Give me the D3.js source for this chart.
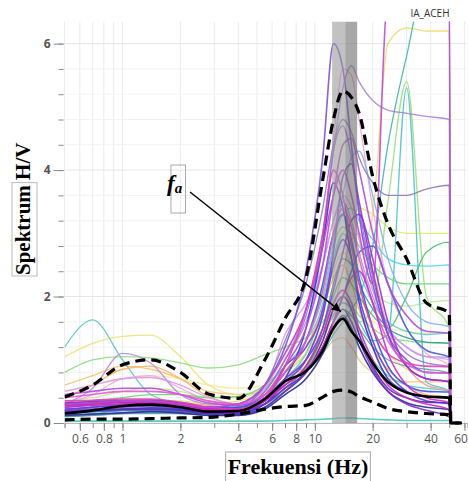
<!DOCTYPE html>
<html>
<head>
<meta charset="utf-8">
<script src="https://cdn.jsdelivr.net/npm/d3@7"></script>
<style>
  body { margin: 0; background: #fff; }
  svg { display: block; }
  .tick text { font-family: "Open Sans", sans-serif; font-size: 12px; fill: #555; }
  .tick line { stroke: #8a8a8a; }
</style>
</head>
<body>
<svg id="chart" width="468" height="481"></svg>
<script>
// frequency grid (Hz) shared by every H/V curve
const freqs = [0.5, 0.7, 1, 1.4, 2, 2.8, 4, 5.5, 7, 9, 11, 12.5, 14, 15.5, 17, 20, 24, 30, 38, 50];
// after the last frequency all curves fall to 0
const tailFreqs = [51, 58];

// single-window H/V curves, light colours first so the purples end on top
const curveColors = [
  "#f3ea9c", "#f5c27a", "#efe27a", "#8edc86", "#5ec9c3", "#f6b35e", "#bfe99a", "#d9ec6a",
  "#eadb78", "#9be07a", "#4fc1c9", "#3fb6ae", "#f2a6d8", "#f29a8a", "#6fcf7a", "#55d4e6",
  "#62c6d8", "#4fbf6a", "#2d9c8c", "#6a9aa6", "#7fb0f0", "#b98ae6", "#d89ae8", "#a585d6",
  "#8d7bb0", "#9b6fe0", "#4466cc", "#3c4fe0", "#3a36c8", "#2a2a9a", "#5b3fd8", "#5a2ab0",
  "#7b52d6", "#8a3ccc", "#9a2fd8", "#7d2fc0", "#b14fd8", "#e25ad0", "#e040b0", "#d02ac8",
  "#c72fb9", "#c04ad0", "#4cc6b8"
];
const curveValues = [
  [0.5, 0.6, 0.7, 0.75, 0.7, 0.6, 0.55, 0.6, 0.75, 0.95, 1.3, 1.7, 1.9, 1.9, 1.8, 1.6, 1.5, 1.45, 1.42, 1.42],
  [0.6, 0.75, 0.9, 0.85, 0.7, 0.5, 0.45, 0.5, 0.65, 0.85, 1.1, 1.3, 1.35, 1.2, 1.0, 0.8, 0.7, 0.65, 0.65, 0.65],
  [1.05, 1.26, 1.37, 1.39, 1.05, 0.6, 0.45, 0.55, 0.85, 1.2, 1.8, 2.4, 2.7, 2.5, 2.1, 1.5, 1.1, 0.85, 0.7, 0.65],
  [0.8, 1.0, 1.05, 1.03, 0.95, 0.87, 0.92, 1.08, 1.2, 1.35, 1.6, 1.8, 1.9, 1.85, 1.7, 1.5, 1.35, 1.3, 1.27, 1.26],
  [1.2, 1.63, 1.0, 0.45, 0.3, 0.22, 0.2, 0.35, 0.6, 0.9, 1.4, 1.9, 2.1, 1.8, 1.4, 1.0, 0.75, 0.6, 0.55, 0.5],
  [0.4, 0.6, 0.85, 0.9, 0.7, 0.42, 0.3, 0.45, 0.8, 1.2, 1.8, 2.3, 2.5, 2.2, 1.8, 1.2, 0.85, 0.6, 0.45, 0.4],
  [0.35, 0.4, 0.5, 0.55, 0.5, 0.4, 0.4, 0.55, 0.8, 1.1, 1.7, 2.6, 3.0, 2.8, 2.5, 2.1, 1.9, 1.85, 1.9, 1.94],
  [0.2, 0.25, 0.3, 0.35, 0.35, 0.3, 0.3, 0.45, 0.7, 1.1, 1.8, 2.6, 3.0, 3.2, 3.4, 3.3, 3.1, 3.0, 3.0, 3.0],
  [0.15, 0.2, 0.25, 0.3, 0.3, 0.3, 0.35, 0.5, 0.8, 1.1, 1.5, 1.8, 2.0, 2.2, 2.6, 3.3, 6.0, 6.25, 6.2, 6.2],
  [0.2, 0.25, 0.3, 0.3, 0.28, 0.25, 0.3, 0.45, 0.7, 0.9, 1.2, 1.5, 1.7, 1.7, 1.6, 1.8, 3.5, 5.4, 2.0, 1.5],
  [0.12, 0.15, 0.2, 0.22, 0.2, 0.18, 0.22, 0.4, 0.7, 1.0, 1.4, 1.7, 1.9, 1.8, 1.6, 1.3, 1.4, 5.3, 0.65, 0.5],
  [0.1, 0.12, 0.15, 0.15, 0.15, 0.15, 0.2, 0.3, 0.5, 0.8, 1.1, 1.4, 1.6, 1.8, 2.0, 2.8, 4.4, 5.8, 7.0, 7.0],
  [0.3, 0.45, 0.7, 0.75, 0.55, 0.35, 0.3, 0.55, 1.1, 1.8, 3.0, 4.5, 5.6, 5.5, 4.8, 3.4, 2.2, 1.5, 1.1, 0.9],
  [0.2, 0.25, 0.3, 0.35, 0.32, 0.28, 0.25, 0.4, 0.6, 0.9, 1.3, 1.8, 2.4, 2.9, 3.0, 2.4, 1.5, 0.9, 0.6, 0.5],
  [0.3, 0.35, 0.4, 0.45, 0.45, 0.4, 0.42, 0.6, 0.9, 1.3, 2.0, 2.8, 3.1, 3.0, 2.8, 2.5, 2.3, 2.2, 2.2, 2.2],
  [0.2, 0.22, 0.25, 0.26, 0.22, 0.18, 0.2, 0.4, 0.8, 1.3, 2.1, 2.9, 3.3, 3.4, 3.2, 2.9, 2.6, 2.5, 2.48, 2.5],
  [0.22, 0.25, 0.28, 0.3, 0.27, 0.22, 0.24, 0.4, 0.7, 1.1, 1.8, 2.6, 3.0, 2.8, 2.4, 1.9, 1.6, 1.45, 1.4, 1.42],
  [0.12, 0.14, 0.16, 0.18, 0.16, 0.12, 0.12, 0.25, 0.5, 0.85, 1.4, 2.0, 2.3, 2.2, 2.0, 1.7, 1.5, 2.0, 2.7, 2.86],
  [0.15, 0.18, 0.2, 0.22, 0.2, 0.15, 0.16, 0.3, 0.55, 0.9, 1.5, 2.2, 2.6, 2.5, 2.2, 1.8, 1.5, 1.35, 1.28, 1.26],
  [0.1, 0.12, 0.15, 0.16, 0.15, 0.12, 0.14, 0.25, 0.5, 0.8, 1.2, 1.6, 1.8, 1.7, 1.5, 1.2, 1.0, 0.9, 0.85, 0.79],
  [0.25, 0.3, 0.35, 0.35, 0.3, 0.25, 0.3, 0.55, 0.9, 1.3, 1.9, 2.8, 3.6, 4.2, 4.3, 3.6, 2.6, 1.9, 1.6, 1.52],
  [0.3, 0.55, 1.1, 0.95, 0.45, 0.3, 0.28, 0.5, 1.0, 1.6, 2.5, 3.2, 3.5, 3.2, 2.7, 2.0, 1.5, 1.2, 1.05, 1.04],
  [0.5, 0.6, 0.7, 0.72, 0.6, 0.4, 0.3, 0.55, 1.4, 1.9, 2.5, 3.2, 3.6, 3.4, 2.9, 2.1, 1.5, 1.2, 1.05, 1.0],
  [0.2, 0.25, 0.3, 0.32, 0.28, 0.22, 0.25, 0.5, 1.0, 1.8, 3.0, 4.3, 5.3, 5.65, 5.4, 5.1, 4.95, 4.9, 4.85, 4.8],
  [0.2, 0.25, 0.3, 0.3, 0.25, 0.2, 0.25, 0.6, 1.3, 2.2, 3.4, 4.4, 4.8, 4.6, 4.2, 3.8, 3.6, 3.6, 3.7, 3.76],
  [0.25, 0.28, 0.3, 0.33, 0.3, 0.24, 0.24, 0.5, 1.0, 1.7, 2.9, 4.3, 4.7, 4.2, 3.4, 2.3, 1.5, 1.1, 0.95, 0.89],
  [0.15, 0.18, 0.2, 0.2, 0.18, 0.14, 0.15, 0.3, 0.55, 0.8, 1.2, 1.6, 2.0, 2.4, 2.7, 2.8, 2.2, 1.5, 1.15, 1.04],
  [0.3, 0.32, 0.35, 0.36, 0.32, 0.25, 0.25, 0.45, 0.8, 1.3, 2.2, 3.0, 3.3, 2.9, 2.3, 1.5, 0.9, 0.6, 0.5, 0.49],
  [0.18, 0.2, 0.22, 0.24, 0.22, 0.16, 0.16, 0.3, 0.7, 1.5, 2.8, 3.8, 3.4, 2.6, 1.9, 1.2, 0.7, 0.5, 0.42, 0.4],
  [0.12, 0.14, 0.16, 0.18, 0.16, 0.12, 0.12, 0.22, 0.45, 0.7, 1.1, 1.5, 1.7, 1.5, 1.2, 0.8, 0.5, 0.32, 0.25, 0.21],
  [0.22, 0.25, 0.28, 0.3, 0.26, 0.2, 0.2, 0.35, 0.65, 1.0, 1.7, 2.5, 2.9, 2.6, 2.0, 1.3, 0.8, 0.5, 0.35, 0.3],
  [0.18, 0.2, 0.22, 0.22, 0.2, 0.15, 0.14, 0.25, 0.5, 0.8, 1.3, 1.8, 2.0, 1.8, 1.4, 0.9, 0.55, 0.4, 0.33, 0.32],
  [0.25, 0.3, 0.35, 0.35, 0.3, 0.25, 0.3, 0.6, 1.2, 2.4, 4.2, 6.0, 5.6, 4.4, 3.3, 2.2, 1.4, 1.0, 0.8, 0.79],
  [0.2, 0.22, 0.25, 0.27, 0.24, 0.18, 0.18, 0.35, 0.9, 1.2, 1.8, 2.7, 3.9, 4.1, 3.5, 2.4, 1.4, 0.9, 0.7, 0.65],
  [0.28, 0.3, 0.33, 0.33, 0.3, 0.22, 0.22, 0.4, 0.7, 1.0, 1.5, 2.1, 2.7, 3.2, 3.3, 2.6, 1.6, 0.9, 0.7, 0.65],
  [0.32, 0.34, 0.36, 0.36, 0.3, 0.22, 0.2, 0.3, 0.55, 0.8, 1.2, 1.6, 1.8, 1.6, 1.3, 0.85, 0.5, 0.3, 0.2, 0.1],
  [0.45, 0.5, 0.55, 0.55, 0.45, 0.32, 0.28, 0.45, 0.9, 1.5, 2.5, 3.6, 4.4, 4.5, 4.0, 3.0, 2.2, 1.7, 1.45, 1.42],
  [0.4, 0.45, 0.5, 0.5, 0.45, 0.35, 0.3, 0.45, 0.8, 1.3, 2.1, 3.0, 3.4, 3.1, 2.6, 1.9, 1.3, 0.95, 0.8, 0.79],
  [0.35, 0.36, 0.38, 0.38, 0.33, 0.25, 0.22, 0.4, 0.9, 1.8, 3.0, 4.0, 3.6, 2.8, 2.2, 1.5, 1.1, 0.95, 0.9, 0.89],
  [0.25, 0.28, 0.3, 0.32, 0.3, 0.22, 0.2, 0.35, 0.6, 0.85, 1.2, 1.6, 2.0, 2.3, 2.4, 1.9, 1.1, 0.6, 0.4, 0.32],
  [0.28, 0.3, 0.32, 0.32, 0.28, 0.2, 0.2, 0.35, 0.6, 0.9, 1.4, 1.9, 2.1, 1.9, 1.5, 1.0, 0.6, 0.4, 0.3, 0.21],
  [0.3, 0.32, 0.35, 0.35, 0.3, 0.25, 0.3, 0.6, 1.1, 1.8, 2.8, 3.6, 4.0, 3.6, 3.0, 2.2, 6.8, 7.0, 7.0, 7.0],
  [0.03, 0.03, 0.03, 0.03, 0.03, 0.03, 0.03, 0.03, 0.04, 0.05, 0.06, 0.07, 0.08, 0.08, 0.07, 0.06, 0.05, 0.04, 0.04, 0.04]
];

// average curve and average +/- standard deviation
const meanHV  = [0.15, 0.2, 0.27, 0.29, 0.25, 0.18, 0.19, 0.38, 0.66, 0.82, 1.15, 1.5, 1.65, 1.45, 1.3, 0.95, 0.65, 0.48, 0.42, 0.4];
const upperHV = [0.41, 0.6, 0.92, 1.0, 0.8, 0.46, 0.39, 1.0, 1.65, 2.3, 3.85, 4.8, 5.25, 5.15, 4.9, 3.9, 3.15, 2.6, 1.9, 1.74];
const lowerHV = [0.05, 0.06, 0.06, 0.07, 0.08, 0.09, 0.14, 0.22, 0.26, 0.28, 0.41, 0.5, 0.52, 0.49, 0.42, 0.33, 0.23, 0.18, 0.15, 0.13];

// peak frequency band (Hz): lighter left half, darker right half
const bandLeft = [12.3, 14.4];
const bandRight = [14.4, 16.6];

const xTickLabels = [0.6, 0.8, 1, 2, 4, 6, 8, 10, 20, 40, 60];
const yTickLabels = [0, 2, 4, 6];

/* ===== scales ===== */
const svg = d3.select('#chart');
const x = d3.scaleLog().domain([0.5, 62]).range([64.6, 467.2]);
const y = d3.scaleLinear().domain([0, 6.35]).range([423, 21.5]);
const yMinor = d3.range(0, 6.01, 0.4);

svg.append('clipPath').attr('id', 'plot-clip')
  .append('rect')
  .attr('x', x.range()[0]).attr('y', y.range()[1])
  .attr('width', x.range()[1] - x.range()[0])
  .attr('height', y.range()[0] - y.range()[1] + 3);

/* ===== grid ===== */
const grid = svg.append('g');
grid.selectAll('.vgrid')
  .data(x.ticks())
  .enter().append('line')
  .attr('x1', d => x(d)).attr('x2', d => x(d))
  .attr('y1', y.range()[1]).attr('y2', y(0))
  .attr('stroke', '#ececec');
grid.selectAll('.hgrid')
  .data(yMinor)
  .enter().append('line')
  .attr('x1', x.range()[0]).attr('x2', x.range()[1])
  .attr('y1', d => y(d)).attr('y2', d => y(d))
  .attr('stroke', d => yTickLabels.includes(Math.round(d * 10) / 10) ? '#e6e6e6' : '#f2f2f2');

/* ===== axes ===== */
svg.append('g')
  .attr('transform', `translate(0,${y(0)})`)
  .call(d3.axisBottom(x).tickValues(x.ticks()).tickSize(5).tickFormat(''))
  .call(g => g.select('.domain').attr('stroke', '#bbb'));
svg.append('g')
  .attr('transform', `translate(0,${y(0)})`)
  .call(d3.axisBottom(x).tickValues(xTickLabels).tickSize(8).tickPadding(3).tickFormat(d3.format('')))
  .call(g => g.select('.domain').remove())
  // last label sits at the window edge; keep it fully inside
  .call(g => g.selectAll('text').filter(d => d === 60).attr('text-anchor', 'end').attr('dx', 3));

svg.append('g')
  .attr('transform', `translate(${x.range()[0] - 1},0)`)
  .call(d3.axisLeft(y).tickValues(yMinor).tickSize(5).tickFormat(''))
  .call(g => g.select('.domain').remove());
svg.append('g')
  .attr('transform', `translate(${x.range()[0] - 1},0)`)
  .call(d3.axisLeft(y).tickValues(yTickLabels).tickSize(10).tickPadding(3).tickFormat(d3.format('d')))
  .call(g => g.select('.domain').remove())
  .call(g => g.selectAll('text').style('font-weight', 'bold'));

/* ===== curves ===== */
const line = d3.line()
  .x(d => x(d[0]))
  .y(d => y(d[1]))
  .curve(d3.curveMonotoneX);

const toPoints = vals => freqs.map((f, i) => [f, vals[i]]).concat(tailFreqs.map(f => [f, 0]));

const plot = svg.append('g').attr('clip-path', 'url(#plot-clip)');

plot.selectAll('.hv')
  .data(curveValues)
  .enter().append('path')
  .attr('d', d => line(toPoints(d)))
  .attr('fill', 'none')
  .attr('stroke', (d, i) => curveColors[i])
  .attr('stroke-width', (d, i) => i > 25 ? 1.6 : 1.3)
  .attr('stroke-opacity', 0.9);

// band drawn over the single curves, under the averages
plot.selectAll('.band')
  .data([bandLeft, bandRight])
  .enter().append('rect')
  .attr('x', d => x(d[0]))
  .attr('y', y.range()[1])
  .attr('width', d => x(d[1]) - x(d[0]))
  .attr('height', y(0) - y.range()[1])
  .attr('fill', (d, i) => i ? '#6e6e6e' : '#9a9a9a')
  .attr('fill-opacity', 0.6);

plot.append('path')
  .attr('d', line(toPoints(meanHV)))
  .attr('fill', 'none').attr('stroke', '#000').attr('stroke-width', 2.6);
plot.selectAll('.std')
  .data([upperHV, lowerHV])
  .enter().append('path')
  .attr('d', d => line(toPoints(d)))
  .attr('fill', 'none').attr('stroke', '#000')
  .attr('stroke-width', 3.2)
  .attr('stroke-dasharray', '10,6');

/* ===== annotation f_a ===== */
svg.append('defs').append('marker')
  .attr('id', 'arrow')
  .attr('viewBox', '0 0 10 10')
  .attr('refX', 10).attr('refY', 5)
  .attr('markerWidth', 9).attr('markerHeight', 9)
  .attr('markerUnits', 'userSpaceOnUse')
  .attr('orient', 'auto')
  .append('path').attr('d', 'M0,0 L10,5 L0,10 Z').attr('fill', '#000');

const peakIdx = meanHV.indexOf(d3.max(meanHV));
svg.append('line')
  .attr('x1', 190).attr('y1', 192)
  .attr('x2', x(freqs[peakIdx]) - 2).attr('y2', y(meanHV[peakIdx]) - 7)
  .attr('stroke', '#000').attr('stroke-width', 1.4)
  .attr('marker-end', 'url(#arrow)');

svg.append('rect')
  .attr('x', 171).attr('y', 165).attr('width', 14.5).attr('height', 48)
  .attr('fill', 'none').attr('stroke', '#aaa').attr('stroke-width', 1);
const fa = svg.append('text')
  .attr('x', 167).attr('y', 191)
  .style('font-family', '"Liberation Serif", "Times New Roman", serif')
  .style('font-style', 'italic').style('font-weight', 'bold');
fa.append('tspan').style('font-size', '23px').text('f');
fa.append('tspan').attr('dy', 2).style('font-size', '15px').text('a');

/* ===== titles ===== */
svg.append('text')
  .attr('x', 430).attr('y', 17)
  .attr('text-anchor', 'middle')
  .style('font-family', '"Open Sans", sans-serif')
  .style('font-size', '10px').style('fill', '#333')
  .text('IA_ACEH');

const xLabel = svg.append('text')
  .attr('x', 298).attr('y', 474)
  .attr('text-anchor', 'middle')
  .style('font-family', '"Liberation Serif", "Times New Roman", serif')
  .style('font-size', '22px').style('font-weight', 'bold')
  .text('Frekuensi (Hz)');
const xb = xLabel.node().getBBox();
svg.append('rect')
  .attr('x', xb.x - 2).attr('y', 452)
  .attr('width', xb.width + 4).attr('height', 30)
  .attr('fill', 'none').attr('stroke', '#aaa');

const yLabel = svg.append('text')
  .attr('transform', 'translate(30,275) rotate(-90)')
  .style('font-family', '"Liberation Serif", "Times New Roman", serif')
  .style('font-size', '21px').style('font-weight', 'bold');
yLabel.append('tspan').attr('class', 'box-word').text('Spektrum');
yLabel.append('tspan').text(' H/V');
const yb = yLabel.select('.box-word').node().getBBox();
svg.append('rect')
  .attr('x', 12).attr('y', 275 - yb.width - 2)
  .attr('width', 25).attr('height', yb.width + 3)
  .attr('fill', 'none').attr('stroke', '#bbb');
</script>
</body>
</html>
